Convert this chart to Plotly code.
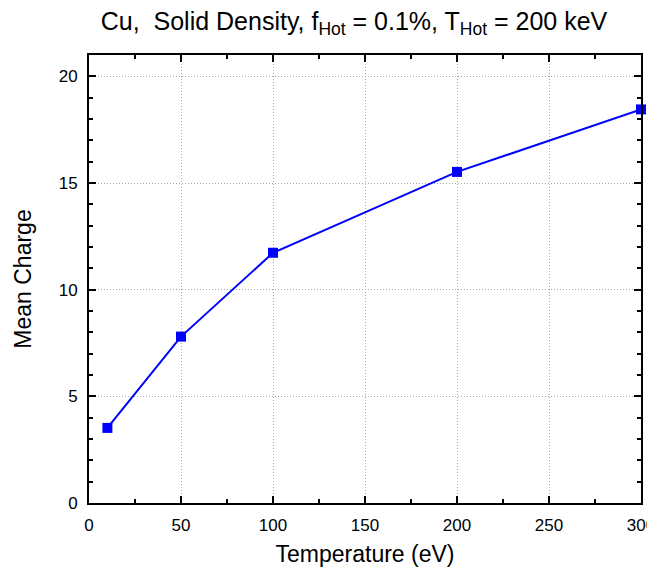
import plotly.graph_objects as go

temperature = [10, 50, 100, 200, 300]
mean_charge = [3.52, 7.8, 11.73, 15.52, 18.45]

FONT = "Liberation Sans, Arial, sans-serif"

fig = go.Figure()
fig.add_trace(go.Scatter(
    x=temperature, y=mean_charge, mode="lines+markers",
    line=dict(color="#0000ff", width=2),
    marker=dict(symbol="square", size=10, color="#0000ff"),
    cliponaxis=False, showlegend=False))

axis_common = dict(
    showline=True, linecolor="black", linewidth=2, mirror="allticks",
    ticks="inside", ticklen=7, tickwidth=2, tickcolor="black",
    showgrid=True, gridcolor="#a8a8a8", griddash="1px,2px", gridwidth=1,
    zeroline=False, automargin=False,
    tickfont=dict(family=FONT, size=17, color="black"),
)

# page body has an 8px margin, so the figure is offset to compensate
fig.update_layout(
    width=655, height=559,
    margin=dict(l=81, r=22, t=47, b=64),
    plot_bgcolor="white", paper_bgcolor="white",
    title=dict(text="Cu,  Solid Density, f<sub>Hot</sub> = 0.1%, T<sub>Hot</sub> = 200 keV",
               x=346 / 655, xanchor="center", xref="container", y=0.976, yanchor="middle",
               font=dict(family=FONT, size=25, color="black")),
    xaxis=dict(range=[0, 300], tickvals=[0, 50, 100, 150, 200, 250, 300],
               ticklabelstandoff=6,
               minor=dict(ticks="inside", ticklen=4, tickwidth=2, tickcolor="black", dtick=25, showgrid=False),
               title=dict(text="Temperature (eV)", standoff=12,
                          font=dict(family=FONT, size=23, color="black")),
               **axis_common),
    yaxis=dict(range=[0, 21], tickvals=[0, 5, 10, 15, 20],
               ticklabelstandoff=6,
               minor=dict(ticks="inside", ticklen=4, tickwidth=2, tickcolor="black", dtick=1, showgrid=False),
               title=dict(text="Mean Charge", standoff=21,
                          font=dict(family=FONT, size=23, color="black")),
               **axis_common),
)

fig.write_html("out.html")
